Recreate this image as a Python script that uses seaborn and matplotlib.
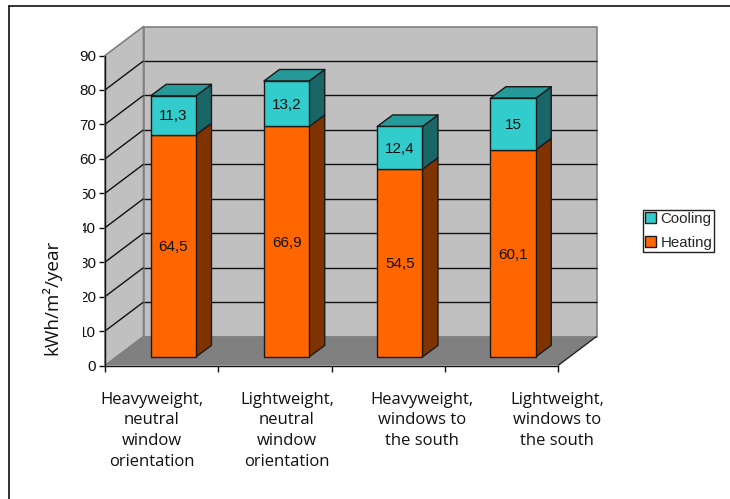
"""
Stacked heating / cooling demand per building variant, drawn like an old 3D office chart.
"""

import matplotlib
matplotlib.use("Agg")
import matplotlib.pyplot as plt
import numpy as np
import seaborn as sns
from matplotlib.lines import Line2D
from matplotlib.patches import Patch, Polygon, Rectangle
from matplotlib.transforms import Affine2D, Bbox, IdentityTransform

categories = [
    "Heavyweight,\nneutral\nwindow\norientation",
    "Lightweight,\nneutral\nwindow\norientation",
    "Heavyweight,\nwindows to\nthe south",
    "Lightweight,\nwindows to\nthe south",
]
heating = [64.5, 66.9, 54.5, 60.1]
cooling = [11.3, 13.2, 12.4, 15]
heating_labels = ["64,5", "66,9", "54,5", "60,1"]
cooling_labels = ["11,3", "13,2", "12,4", "15"]
y_ticks = [0, 10, 20, 30, 40, 50, 60, 70, 80, 90]

ORANGE = "#FF6600"
ORANGE_DARK = "#7F3300"
TEAL = "#33CCCC"
TEAL_TOP = "#269999"
TEAL_DARK = "#1A6666"
WALL = "#C0C0C0"
FLOOR = "#808080"
EDGE = "#1A1A1A"
NUM_FONT = ["Liberation Sans", "DejaVu Sans"]

W, H = 730, 499
WALL_DX, WALL_DY = 38.5, 29      # depth of the chart box in pixels
BAR_DX, BAR_DY = 15.5, 11.5      # depth of each bar
BAR_SHIFT = (11.7, 8.6)          # front face sits inside the box
LABEL_SHIFT = [-9.6, 12.1, 34, 56]  # category labels drift right of their slots

sns.set_theme(style="white")
plt.rcParams["font.family"] = ["Open Sans", "DejaVu Sans"]

fig = plt.figure(figsize=(W / 100, H / 100), dpi=100)
ax = fig.add_axes([105 / W, (H - 365.5) / H, 453 / W, 310 / H])
ax.patch.set_visible(False)


def poly(points, color, z, edge=None, lw=1.0):
    ax.add_patch(Polygon(points, closed=True, facecolor=color, edgecolor=edge or "none",
                         linewidth=lw, transform=IdentityTransform(), clip_on=False,
                         zorder=z, joinstyle="round"))


def seg(p, q, color, z, lw=1.0):
    ax.plot([p[0], q[0]], [p[1], q[1]], color=color, lw=lw, zorder=z,
            transform=IdentityTransform(), clip_on=False, solid_capstyle="butt")


sns.barplot(x=categories, y=heating, color=ORANGE, saturation=1, width=0.4,
            edgecolor=EDGE, linewidth=1.0, ax=ax, zorder=6)
sns.barplot(x=categories, y=cooling, bottom=heating, color=TEAL, saturation=1, width=0.4,
            edgecolor=EDGE, linewidth=1.0, ax=ax, zorder=6)
ax.set_xlim(-0.5, 3.5)
ax.set_ylim(0, 90)

# box: corners in display pixels from the axes scales
x0, y0 = ax.transData.transform((-0.5, 0))
x1, y1 = ax.transData.transform((3.5, 90))
poly([(x0, y0), (x0 + WALL_DX, y0 + WALL_DY), (x0 + WALL_DX, y1 + WALL_DY), (x0, y1)],
     WALL, 1, edge="#808080", lw=1.2)
poly([(x0 + WALL_DX, y0 + WALL_DY), (x1 + WALL_DX, y0 + WALL_DY),
      (x1 + WALL_DX, y1 + WALL_DY), (x0 + WALL_DX, y1 + WALL_DY)],
     WALL, 1, edge="#808080", lw=1.2)
for v in y_ticks[1:-1]:
    _, y = ax.transData.transform((0, v))
    seg((x0, y), (x0 + WALL_DX, y + WALL_DY), "#111111", 2)
    seg((x0 + WALL_DX, y + WALL_DY), (x1 + WALL_DX, y + WALL_DY), "#111111", 2)
poly([(x0, y0), (x1, y0), (x1 + WALL_DX, y0 + WALL_DY), (x0 + WALL_DX, y0 + WALL_DY)],
     FLOOR, 3)
seg((x1, y0), (x1 + WALL_DX, y0 + WALL_DY), "#222222", 4)

# bars: shift the seaborn faces into the box, then add side and top faces
shift = Affine2D().translate(*BAR_SHIFT)
n = len(categories)
for i, rect in enumerate(ax.patches[:2 * n]):
    if not isinstance(rect, Rectangle):
        continue
    (a, b), (c, d) = ax.transData.transform(
        [(rect.get_x(), rect.get_y()), (rect.get_x() + rect.get_width(), rect.get_y() + rect.get_height())])
    rect.set_transform(ax.transData + shift)
    rect.set_clip_on(False)
    a, c = a + BAR_SHIFT[0], c + BAR_SHIFT[0]
    b, d = b + BAR_SHIFT[1], d + BAR_SHIFT[1]
    is_heat = i < n
    poly([(c, b), (c + BAR_DX, b + BAR_DY), (c + BAR_DX, d + BAR_DY), (c, d)],
         ORANGE_DARK if is_heat else TEAL_DARK, 5, edge=EDGE)
    if not is_heat:
        poly([(a, d), (a + BAR_DX, d + BAR_DY), (c + BAR_DX, d + BAR_DY), (c, d)],
             TEAL_TOP, 5, edge=EDGE)
    label = heating_labels[i] if is_heat else cooling_labels[i - n]
    ax.text((a + c) / 2, (b + d) / 2 - 1.2, label, transform=IdentityTransform(), ha="center",
            va="center", fontsize=11, family=NUM_FONT, color="#111111", zorder=8, clip_on=False)

# axes
for side in ["top", "right"]:
    ax.spines[side].set_visible(False)
for side in ["left", "bottom"]:
    ax.spines[side].set_color("#111111")
    ax.spines[side].set_linewidth(1.0)
    ax.spines[side].set_zorder(7)
ax.set_yticks(y_ticks)
ax.tick_params(axis="y", left=True, length=4.5, width=1, color="#111111", labelsize=11,
               pad=2, labelcolor="#111111")
ax.set_xticks(np.arange(-0.5, 4), minor=True)
ax.tick_params(axis="x", which="minor", bottom=True, length=4, width=1, color="#111111")
ax.tick_params(axis="x", which="major", bottom=False, labelsize=12, pad=13,
               labelcolor="#111111")
for lab, dx in zip(ax.get_xticklabels(), LABEL_SHIFT):
    lab.set_linespacing(1.38)
    lab.set_va("top")
    lab.set_transform(lab.get_transform() + Affine2D().translate(dx, 0))

# the reference cuts the first digit of the lower tick labels
cut = Bbox([[83, 0], [W, H]])
for lab, v in zip(ax.get_yticklabels(), y_ticks):
    lab.set_family(NUM_FONT)
    if 10 <= v <= 50:
        lab.set_clip_box(cut)
        lab.set_clip_on(True)

ax.set_ylabel("kWh/m²/year", fontsize=13.6, color="#111111")
ax.yaxis.set_label_coords(-0.097, 0.221)

# legend
handles = [Patch(facecolor=TEAL, edgecolor=EDGE, label="Cooling"),
           Patch(facecolor=ORANGE, edgecolor=EDGE, label="Heating")]
leg = fig.legend(handles=handles, loc="upper left", bbox_to_anchor=(643 / W, (H - 209.5) / H),
                 frameon=True, fancybox=False, edgecolor="#222222", framealpha=1,
                 handlelength=0.7, handleheight=0.7, handletextpad=0.3, borderpad=0.15,
                 labelspacing=0.65, borderaxespad=0, prop={"family": NUM_FONT, "size": 10.8})

# outer frame: only the left and top edges fall inside the picture
fig.add_artist(Line2D([8.5 / W, 8.5 / W], [0, (H - 5.5) / H], color="#111111", lw=1.2,
                      transform=fig.transFigure))
fig.add_artist(Line2D([8.5 / W, 1], [(H - 5.5) / H, (H - 5.5) / H], color="#111111", lw=1.2,
                      transform=fig.transFigure))

fig.savefig("out.png", dpi=100)
